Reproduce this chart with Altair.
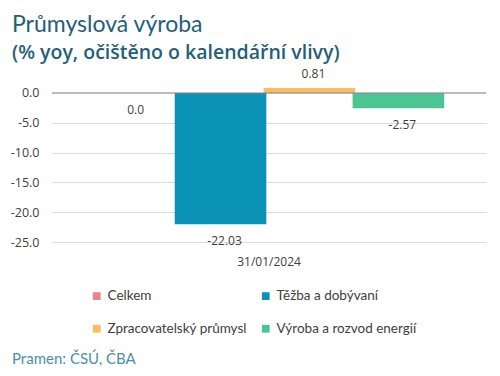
import altair as alt
import pandas as pd

date_label = ["31/01/2024"] * 4
series = ["Celkem", "Těžba a dobývaní", "Zpracovatelský průmysl", "Výroba a rozvod energií"]
values = [0.0, -22.03, 0.81, -2.57]
labels = ["0.0", "-22.03", "0.81", "-2.57"]
colors = ["#f0808f", "#0b92b7", "#fdbd5e", "#4cc494"]
legend_order = ["Celkem", "Zpracovatelský průmysl", "Těžba a dobývaní", "Výroba a rozvod energií"]
legend_colors = ["#f0808f", "#fdbd5e", "#0b92b7", "#4cc494"]
y_ticks = [0.0, -5.0, -10.0, -15.0, -20.0, -25.0]

title_text = "Průmyslová výroba"
subtitle_text = "(% yoy, očištěno o kalendářní vlivy)"
source_text = "Pramen: ČSÚ, ČBA"

df = pd.DataFrame({"date": date_label, "series": series, "value": values, "label": labels})

FONT = "Lato"
AXFONT = "Open Sans"

x_axis = alt.Axis(domain=False, ticks=False, grid=False, labelAngle=0,
                  labelFont=AXFONT, labelFontSize=12, labelColor="#404040",
                  labelPadding=14)
x_scale = alt.Scale(paddingInner=0, paddingOuter=0.11)
y_axis = alt.Axis(values=y_ticks, domain=False, ticks=False, labelOverlap=False,
                  labelExpr="replace(format(datum.value, '.1f'), '\u2212', '-')",
                  gridColor="#dcdcdc", labelFont=AXFONT, labelFontSize=12.5,
                  labelColor="#404040", labelPadding=13, tickCount=6)
y_scale = alt.Scale(domain=[-25, 2], nice=False, zero=False)

x_enc = alt.X("date:N", title=None, scale=x_scale, axis=x_axis)
xo_enc = alt.XOffset("series:N", sort=series, scale=alt.Scale(paddingInner=0, paddingOuter=0))
y_enc = alt.Y("value:Q", scale=y_scale, title=None, axis=y_axis)

base = alt.Chart(df)

bars = base.mark_bar(width=alt.RelativeBandSize(1.03)).encode(
    x=x_enc,
    xOffset=xo_enc,
    y=y_enc,
    color=alt.Color("series:N",
                    scale=alt.Scale(domain=legend_order, range=legend_colors),
                    legend=alt.Legend(title=None, orient="none", legendX=38, legendY=208,
                                      columns=2, columnPadding=12, rowPadding=18,
                                      symbolType="square", symbolSize=60,
                                      symbolStrokeWidth=0, labelFont=FONT,
                                      labelFontSize=13.5, labelColor="#404040",
                                      labelLimit=250)),
)

zero = alt.Chart(pd.DataFrame({"value": [0.0]})).mark_rule(color="#8c8c8c", strokeWidth=1).encode(
    y=y_enc
)

txt_neg = base.transform_filter("datum.value <= 0").mark_text(
    baseline="middle", dy=17, font=AXFONT, fontSize=12, color="#404040"
).encode(x=x_enc, xOffset=xo_enc, y=y_enc, text="label:N")

txt_pos = base.transform_filter("datum.value > 0").mark_text(
    baseline="middle", dy=-14, font=AXFONT, fontSize=12, color="#404040"
).encode(x=x_enc, xOffset=xo_enc, y=y_enc, text="label:N")

source = alt.Chart(pd.DataFrame({"t": [source_text]})).mark_text(
    align="left", baseline="alphabetic", font=FONT, fontSize=15, color="#4a8fa8"
).encode(x=alt.value(-40), y=alt.value(283), text="t:N")

chart = alt.layer(bars, zero, txt_neg, txt_pos, source).properties(
    width=434, height=161,
    autosize=alt.AutoSizeParams(type="none"),
    padding={"left": 44, "top": 73, "right": 6, "bottom": 125},
    title=alt.TitleParams(text=title_text, subtitle=subtitle_text, anchor="start",
                          frame="group", dx=-40, offset=6, font=FONT, fontSize=23,
                          fontWeight="normal", color="#1f6079", subtitleFont=AXFONT,
                          subtitleFontSize=19.5, subtitleFontWeight=600,
                          subtitleColor="#1f6079", subtitlePadding=7),
).configure_view(stroke=None)

chart.save("out.html", embed_options={"renderer": "svg", "actions": False})
